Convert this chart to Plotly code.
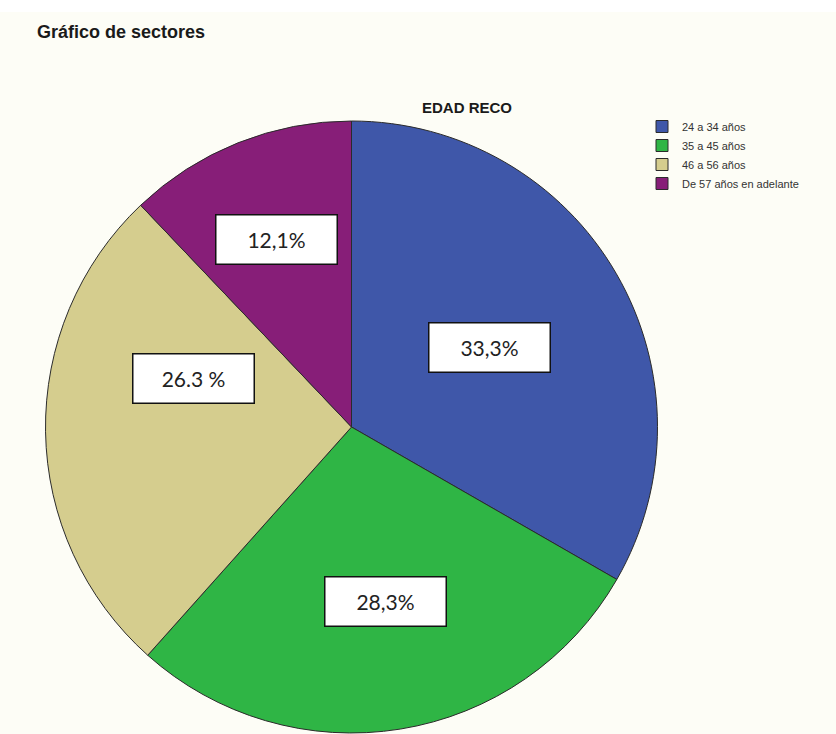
import math
import plotly.graph_objects as go

# data
categories = ["24 a 34 años", "35 a 45 años", "46 a 56 años", "De 57 años en adelante"]
percentages = [33.3, 28.3, 26.3, 12.1]
label_texts = ["33,3%", "28,3%", "26.3 %", "12,1%"]
slice_colors = ["#3f57a9", "#2fb545", "#d5cd8e", "#871e78"]

W, H = 836, 734
# pie geometry in pixels
cx, cy, rad = 351.5, 427, 306
# label placement: radial fraction and angle shift (deg) for each box
label_r = [0.52, 0.58, 0.54, 0.66]
label_shift = [0, -2, 18, 0]

fig = go.Figure(go.Pie(
    labels=categories,
    values=percentages,
    sort=False,
    direction="clockwise",
    rotation=0,
    textinfo="none",
    hoverinfo="label+percent",
    marker=dict(colors=slice_colors, line=dict(color="#2b2b2b", width=1)),
    domain=dict(x=[(cx - rad) / W, (cx + rad) / W], y=[1 - (cy + rad) / H, 1 - (cy - rad) / H]),
))

# label boxes at the middle angle of each slice
total = sum(percentages)
start = 0.0
for i, (v, txt) in enumerate(zip(percentages, label_texts)):
    mid = math.radians((start + v / 2) / total * 360 + label_shift[i])
    start += v
    px = cx + rad * label_r[i] * math.sin(mid)
    py = cy - rad * label_r[i] * math.cos(mid)
    fig.add_annotation(
        x=px / W, y=1 - py / H, xref="paper", yref="paper",
        xanchor="center", yanchor="middle",
        text=txt, showarrow=False,
        font=dict(family="Lato, Open Sans, sans-serif", size=21, color="#222222"),
        bgcolor="white", bordercolor="#111111", borderwidth=1.5,
        width=118, height=46,
    )

fig.add_annotation(
    x=35 / W, y=1 - 32 / H, xref="paper", yref="paper", xanchor="left", yanchor="middle",
    text="<b>Gráfico de sectores</b>", showarrow=False,
    font=dict(family="Liberation Sans, Arial", size=18, color="#1a1a1a"),
)
fig.add_annotation(
    x=467 / W, y=1 - 108 / H, xref="paper", yref="paper", xanchor="center", yanchor="middle",
    text="<b>EDAD RECO</b>", showarrow=False,
    font=dict(family="Liberation Sans, Arial", size=15, color="#1a1a1a"),
)

fig.update_layout(
    width=W, height=H,
    margin=dict(l=0, r=0, t=0, b=0),
    paper_bgcolor="#fdfdf6",
    plot_bgcolor="#fdfdf6",
    showlegend=True,
    legend=dict(
        x=642 / W, y=1 - 112 / H, xanchor="left", yanchor="top",
        font=dict(family="Liberation Sans, Arial", size=11, color="#333333"),
        bgcolor="rgba(0,0,0,0)", tracegroupgap=0, itemwidth=30,
    ),
    shapes=[dict(type="rect", xref="paper", yref="paper", x0=0, x1=1, y0=1 - 12 / H, y1=1,
                 fillcolor="white", line=dict(width=0), layer="below")],
)

fig.write_html("out.html", config={"displayModeBar": False},
               post_script="document.body.style.margin='0';")
